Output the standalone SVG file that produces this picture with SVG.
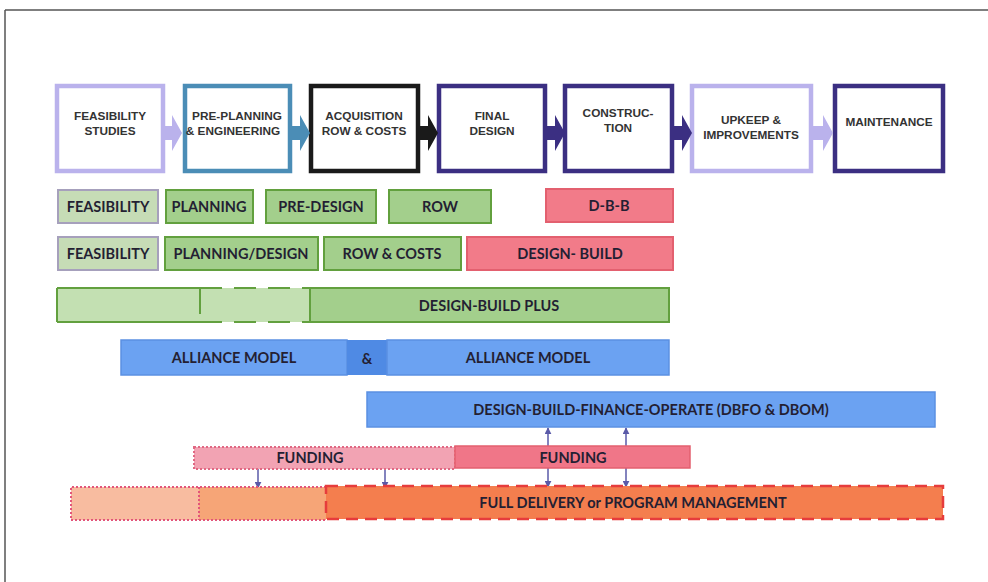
<svg xmlns="http://www.w3.org/2000/svg" width="988" height="582" viewBox="0 0 988 582">
  <style>
    .stage { fill: #ffffff; stroke-width: 4.5; }
    .stage-label { font-family: "Liberation Sans", Arial, sans-serif; font-weight: bold; font-size: 11.8px; fill: #333333; text-anchor: middle; }
    .bar-label { font-family: Lato, "Open Sans", sans-serif; font-weight: bold; font-size: 14.5px; fill: #241f33; text-anchor: middle; }
    .green { fill: #a3cf8c; stroke: #62a03e; stroke-width: 2; }
    .green-lite { fill: #c3e0b2; }
    .feas { fill: #c6dcb6; stroke: #a6a0bc; stroke-width: 2; }
    .pink { fill: #f27b89; stroke: #e3606f; stroke-width: 2; }
    .blue { fill: #6ba2f2; stroke: #5b90e2; stroke-width: 1.5; }
    .link { stroke: #5a5aa8; stroke-width: 1.5; fill: none; }
  </style>
  <defs>
    <marker id="head" viewBox="0 0 10 10" refX="9" refY="5" markerWidth="7" markerHeight="7" orient="auto-start-reverse" markerUnits="userSpaceOnUse">
      <path d="M0,0 L10,5 L0,10 z" fill="#5a5aa8"/>
    </marker>
  </defs>

  <!-- frame -->
  <g id="frame" stroke="#555" stroke-width="1.5" fill="none">
    <line x1="5" y1="10" x2="988" y2="10"/>
    <line x1="5" y1="10" x2="5" y2="582"/>
  </g>

  <!-- top row: project phases -->
  <g id="phase-feasibility">
    <rect class="stage" x="57" y="86" width="106" height="85" stroke="#bab2ec"/>
    <text class="stage-label" x="110" y="120">FEASIBILITY</text>
    <text class="stage-label" x="110" y="135">STUDIES</text>
  </g>
  <g id="phase-preplanning">
    <rect class="stage" x="185" y="86" width="105" height="85" stroke="#4b8db6"/>
    <text class="stage-label" x="237" y="120">PRE-PLANNING</text>
    <text class="stage-label" x="233" y="135">&amp; ENGINEERING</text>
  </g>
  <g id="phase-acquisition">
    <rect class="stage" x="311" y="86" width="107" height="85" stroke="#1a1a1a"/>
    <text class="stage-label" x="364" y="120">ACQUISITION</text>
    <text class="stage-label" x="364" y="135">ROW &amp; COSTS</text>
  </g>
  <g id="phase-final-design">
    <rect class="stage" x="439" y="86" width="106" height="85" stroke="#3b2f82"/>
    <text class="stage-label" x="492" y="120">FINAL</text>
    <text class="stage-label" x="492" y="135">DESIGN</text>
  </g>
  <g id="phase-construction">
    <rect class="stage" x="565" y="86" width="107" height="85" stroke="#3b2f82"/>
    <text class="stage-label" x="618" y="117">CONSTRUC-</text>
    <text class="stage-label" x="618" y="132">TION</text>
  </g>
  <g id="phase-upkeep">
    <rect class="stage" x="692" y="86" width="119" height="85" stroke="#bab2ec"/>
    <text class="stage-label" x="751" y="124">UPKEEP &amp;</text>
    <text class="stage-label" x="751" y="139">IMPROVEMENTS</text>
  </g>
  <g id="phase-maintenance">
    <rect class="stage" x="835" y="86" width="108" height="85" stroke="#3b2f82"/>
    <text class="stage-label" x="889" y="126">MAINTENANCE</text>
  </g>

  <!-- chevrons between phases -->
  <g id="connectors">
    <path d="M163,126 h9 v-11 l10,18 l-10,18 v-11 h-9 z" fill="#bab2ec"/>
    <path d="M291,126 h9 v-11 l10,18 l-10,18 v-11 h-9 z" fill="#4b8db6"/>
    <path d="M419,126 h9 v-11 l10,18 l-10,18 v-11 h-9 z" fill="#1a1a1a"/>
    <path d="M546,126 h9 v-11 l10,18 l-10,18 v-11 h-9 z" fill="#3b2f82"/>
    <path d="M673,126 h9 v-11 l10,18 l-10,18 v-11 h-9 z" fill="#3b2f82"/>
    <path d="M812,126 h11 v-11 l10,18 l-10,18 v-11 h-11 z" fill="#bab2ec"/>
    <!-- funding links -->
    <line class="link" x1="548" y1="446" x2="548" y2="428" marker-end="url(#head)"/>
    <line class="link" x1="626" y1="446" x2="626" y2="428" marker-end="url(#head)"/>
    <line class="link" x1="548" y1="468" x2="548" y2="487" marker-end="url(#head)"/>
    <line class="link" x1="626" y1="468" x2="626" y2="487" marker-end="url(#head)"/>
    <line class="link" x1="258" y1="469" x2="258" y2="488" marker-end="url(#head)"/>
    <line class="link" x1="385" y1="469" x2="385" y2="488" marker-end="url(#head)"/>
  </g>

  <!-- row: traditional delivery -->
  <g id="dbb-feasibility">
    <rect class="feas" x="58" y="190" width="100" height="33"/>
    <text class="bar-label" x="108" y="212">FEASIBILITY</text>
  </g>
  <g id="dbb-planning">
    <rect class="green" x="166" y="190" width="87" height="33"/>
    <text class="bar-label" x="209" y="212">PLANNING</text>
  </g>
  <g id="dbb-predesign">
    <rect class="green" x="266" y="190" width="110" height="33"/>
    <text class="bar-label" x="321" y="212">PRE-DESIGN</text>
  </g>
  <g id="dbb-row">
    <rect class="green" x="389" y="190" width="102" height="33"/>
    <text class="bar-label" x="440" y="212">ROW</text>
  </g>
  <g id="dbb">
    <rect class="pink" x="546" y="189" width="127" height="33"/>
    <text class="bar-label" x="609" y="211">D-B-B</text>
  </g>

  <!-- row: design-build -->
  <g id="db-feasibility">
    <rect class="feas" x="58" y="237" width="100" height="33"/>
    <text class="bar-label" x="108" y="259">FEASIBILITY</text>
  </g>
  <g id="db-planning-design">
    <rect class="green" x="165" y="237" width="153" height="33"/>
    <text class="bar-label" x="241" y="259">PLANNING/DESIGN</text>
  </g>
  <g id="db-row-costs">
    <rect class="green" x="324" y="237" width="137" height="33"/>
    <text class="bar-label" x="392" y="259">ROW &amp; COSTS</text>
  </g>
  <g id="design-build">
    <rect class="pink" x="467" y="237" width="206" height="33"/>
    <text class="bar-label" x="570" y="259">DESIGN- BUILD</text>
  </g>

  <!-- row: design-build plus -->
  <g id="design-build-plus">
    <rect x="57" y="288" width="253" height="34" class="green-lite"/>
    <rect x="310" y="288" width="359" height="34" fill="#a3cf8c"/>
    <path d="M57,288 H200 M57,322 H200 M57,288 V322 M200,288 V314" stroke="#62a03e" stroke-width="2" fill="none"/>
    <path d="M200,288 H310 M200,322 H310" stroke="#62a03e" stroke-width="2" stroke-dasharray="22,12" fill="none"/>
    <path d="M310,288 H669 V322 H310 Z" stroke="#62a03e" stroke-width="2" fill="none"/>
    <text class="bar-label" x="489" y="311">DESIGN-BUILD PLUS</text>
  </g>

  <!-- row: alliance model -->
  <g id="alliance">
    <rect class="blue" x="121" y="340" width="226" height="35"/>
    <rect x="347" y="340" width="40" height="35" fill="#4f8ae4"/>
    <rect class="blue" x="387" y="340" width="282" height="35"/>
    <text class="bar-label" x="234" y="363">ALLIANCE MODEL</text>
    <text class="bar-label" x="367" y="364" font-size="17">&amp;</text>
    <text class="bar-label" x="528" y="363">ALLIANCE MODEL</text>
  </g>

  <!-- row: DBFO -->
  <g id="dbfo">
    <rect class="blue" x="367" y="392" width="568" height="35"/>
    <text class="bar-label" x="651" y="415">DESIGN-BUILD-FINANCE-OPERATE (DBFO &amp; DBOM)</text>
  </g>

  <!-- row: funding -->
  <g id="funding">
    <rect x="194" y="447" width="261" height="22" fill="#f2a3b3"/>
    <rect x="194" y="447" width="261" height="22" fill="none" stroke="#e06883" stroke-width="2" stroke-dasharray="2,2"/>
    <rect x="455" y="446" width="235" height="22" fill="#f07688" stroke="#e3606f" stroke-width="1.5"/>
    <text class="bar-label" x="310" y="463">FUNDING</text>
    <text class="bar-label" x="573" y="463">FUNDING</text>
  </g>

  <!-- row: full delivery / program management -->
  <g id="full-delivery">
    <rect x="71" y="487" width="128" height="33" fill="#f8bca0"/>
    <rect x="199" y="487" width="127" height="33" fill="#f6a577"/>
    <rect x="326" y="486" width="617" height="33" fill="#f47e4e"/>
    <path d="M326,487 H71 V520 H326 M199,487 V520" fill="none" stroke="#e2557a" stroke-width="2" stroke-dasharray="2,2"/>
    <rect x="326" y="486" width="617" height="33" fill="none" stroke="#e63c3c" stroke-width="2.5" stroke-dasharray="12,7"/>
    <text class="bar-label" x="633" y="508">FULL DELIVERY or PROGRAM MANAGEMENT</text>
  </g>
</svg>
